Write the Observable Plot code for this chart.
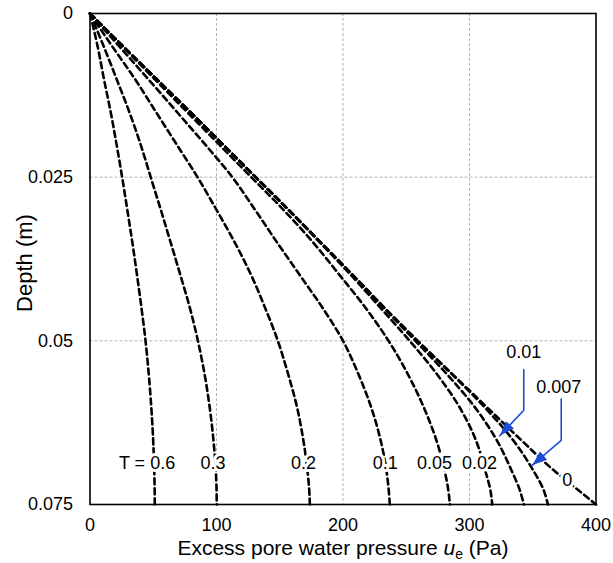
<!DOCTYPE html>
<html>
<head>
<meta charset="utf-8">
<script src="https://cdn.jsdelivr.net/npm/d3@7"></script>
<script src="https://cdn.jsdelivr.net/npm/@observablehq/plot@0.6"></script>
<style>
  html, body { margin: 0; padding: 0; background: white; }
</style>
</head>
<body>
<div id="chart"></div>
<script>
// Depth values (m) shared by all curves
const depth = [0, 0.005, 0.01, 0.015, 0.02, 0.025, 0.03, 0.035, 0.04, 0.045, 0.05, 0.055, 0.06, 0.065, 0.07, 0.0725, 0.075];

// Excess pore water pressure (Pa) for each time factor T
const seriesNames = ["0", "0.007", "0.01", "0.02", "0.05", "0.1", "0.2", "0.3", "0.6"];
const uT0    = [0, 26, 52.5, 79, 105, 131, 157, 182.5, 208, 233, 259, 286, 313, 340, 368, 384, 400];
const uT0007 = [0, 26, 52.5, 79, 105, 131, 157, 182.5, 208, 233, 259, 285.6, 311.2, 333.8, 351, 358, 362];
const uT001  = [0, 26, 52.5, 79, 105, 131, 157, 182.2, 207.7, 232.3, 257.2, 281.7, 303.7, 321, 333.7, 339.2, 343];
const uT002  = [0, 26, 52.5, 79, 105, 130.9, 156.8, 181.9, 206.5, 229.8, 252.7, 273.9, 291.7, 304.7, 312.7, 316.2, 318];
const uT005  = [0, 25.5, 51, 76.5, 102, 127.5, 153, 176.5, 197.5, 218, 236, 251, 263.5, 273.5, 280.5, 283, 284.5];
const uT01   = [0, 23, 46, 68.5, 91, 112.5, 130.5, 148, 166, 184, 200, 212, 222, 229.5, 234.5, 236, 237];
const uT02   = [0, 17.5, 35.5, 52, 68.5, 85, 100, 114.5, 127.5, 138.5, 148.5, 156.5, 163.5, 168.5, 172, 173.2, 173.8];
const uT03   = [0, 10.8, 21, 31, 40, 48, 56, 63.8, 71.5, 79, 85.3, 90.5, 94.5, 97.5, 99.5, 100, 100.2];
const uT06   = [0, 6, 11, 16.3, 21, 25.4, 29.5, 33.5, 37.2, 40.7, 43.9, 46.4, 48.4, 49.9, 50.8, 51.1, 51.2];
const seriesValues = [uT0, uT0007, uT001, uT002, uT005, uT01, uT02, uT03, uT06];

// Curve labels
const labelText = ["T = 0.6", "0.3", "0.2", "0.1", "0.05", "0.02", "0.01", "0.007", "0"];
const labelX    = [45.1, 97.2, 168.8, 233.4, 272.3, 307.9, 342.9, 370.6, 377.2];
const labelY    = [0.0687, 0.0687, 0.0687, 0.0687, 0.0687, 0.0687, 0.0517, 0.0571, 0.0713];

// Leader arrows for 0.01 and 0.007
const arrow001X  = [342.9, 342.9, 323.9];
const arrow001Y  = [0.0544, 0.0606, 0.0645];
const arrow0007X = [372.5, 372.5, 349.6];
const arrow0007Y = [0.0589, 0.0652, 0.0690];

// Axis ticks
const xTicks = [0, 100, 200, 300, 400];
const yTicks = [0, 0.025, 0.05, 0.075];
const xGrid = [100, 200, 300];
const yGrid = [0.025, 0.05];

const curves = seriesNames.flatMap((name, i) =>
  depth.map((d, j) => ({T: name, depth: d, u: seriesValues[i][j]})));
const labels = labelText.map((t, i) => ({text: t, x: labelX[i], y: labelY[i]}));
const arrows = [
  ...arrow001X.map((x, i) => ({id: "a", x, y: arrow001Y[i]})),
  ...arrow0007X.map((x, i) => ({id: "b", x, y: arrow0007Y[i]}))
];

const blue = "#1f4bd8";
function filledArrow(color) {
  const m = d3.create("svg:marker")
    .attr("viewBox", "-15 -6 15 12")
    .attr("refX", 0).attr("refY", 0)
    .attr("markerWidth", 15).attr("markerHeight", 12)
    .attr("markerUnits", "userSpaceOnUse")
    .attr("orient", "auto");
  m.append("path").attr("d", "M-15,-5.5L0,0L-15,5.5Z").attr("fill", blue).attr("stroke", "none");
  return m.node();
}

const font = "'Liberation Sans', Arial, sans-serif";

const svg = Plot.plot({
  width: 613,
  height: 563,
  marginLeft: 89.5,
  marginRight: 17.5,
  marginTop: 13,
  marginBottom: 59,
  style: {fontFamily: font, fontSize: "18px", background: "white", color: "black"},
  x: {domain: [0, 400]},
  y: {domain: [0, 0.075], reverse: true},
  marks: [
    Plot.gridX(xGrid, {stroke: "#b4b4b4", strokeOpacity: 1, strokeWidth: 1, strokeDasharray: "3,2"}),
    Plot.gridY(yGrid, {stroke: "#b4b4b4", strokeOpacity: 1, strokeWidth: 1, strokeDasharray: "3,2"}),
    Plot.axisX({ticks: xTicks, tickSize: 0, tickPadding: 14, label: null, fontSize: 18, tickFormat: d => String(d)}),
    Plot.axisY({ticks: yTicks, tickSize: 0, tickPadding: 17, label: null, fontSize: 18, tickFormat: d => String(d)}),
    Plot.line(curves, {x: "u", y: "depth", z: "T", stroke: "black", strokeWidth: 2.6,
      strokeDasharray: "6,4", curve: "monotone-y"}),
    Plot.text(labels, {x: "x", y: "y", text: "text", fontSize: 18, fill: "black",
      stroke: "white", strokeWidth: 6}),
    Plot.line(arrows, {x: "x", y: "y", z: "id", stroke: blue, strokeWidth: 1.6, markerEnd: filledArrow}),
    Plot.frame({stroke: "black", strokeWidth: 1.6})
  ]
});

const s = d3.select(svg);
// x-axis title with italic u and subscript e
const xt = s.append("text")
  .attr("x", 343).attr("y", 555)
  .attr("text-anchor", "middle")
  .attr("font-family", font).attr("font-size", 21).attr("fill", "black");
xt.append("tspan").text("Excess pore water pressure ");
xt.append("tspan").attr("font-style", "italic").text("u");
xt.append("tspan").attr("font-size", 14).attr("dy", 4).text("e");
xt.append("tspan").attr("dy", -4).text(" (Pa)");
// y-axis title
s.append("text")
  .attr("transform", "translate(31.5,263) rotate(-90)")
  .attr("text-anchor", "middle")
  .attr("font-family", font).attr("font-size", 22).attr("fill", "black")
  .text("Depth (m)");

document.getElementById("chart").appendChild(svg);
</script>
</body>
</html>
